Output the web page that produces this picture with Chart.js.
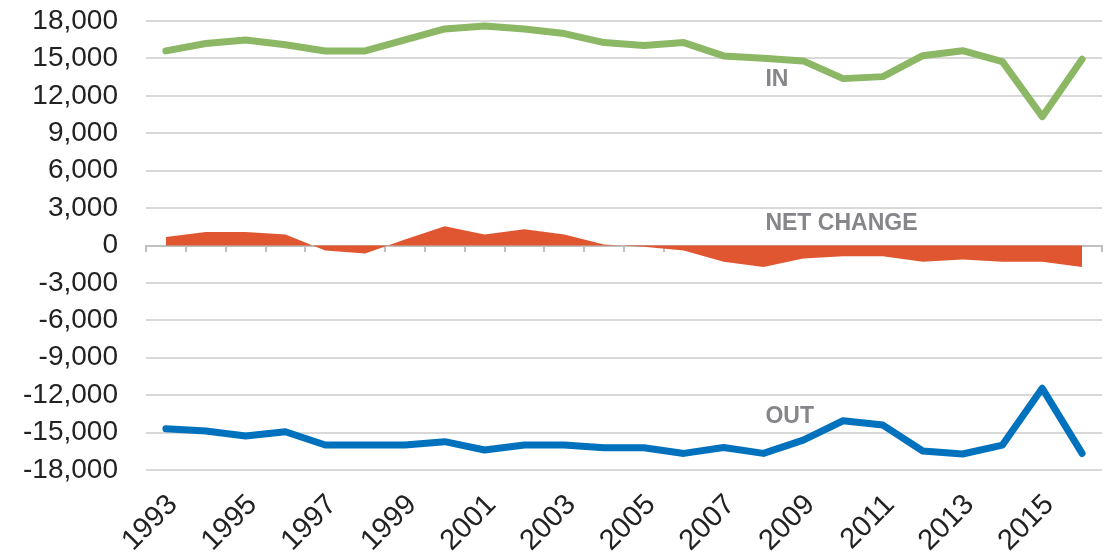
<!DOCTYPE html>
<html>
<head>
<meta charset="utf-8">
<script src="https://cdn.jsdelivr.net/npm/chart.js@4.4.1/dist/chart.umd.min.js"></script>
<style>
  html, body { margin: 0; padding: 0; background: #ffffff; }
  #wrap { width: 1114px; height: 559px; position: relative; }
</style>
</head>
<body>
<div id="wrap"><canvas id="c"></canvas></div>
<script>
const years = ['1993','1994','1995','1996','1997','1998','1999','2000','2001','2002','2003','2004',
               '2005','2006','2007','2008','2009','2010','2011','2012','2013','2014','2015','2016'];
const inflow = [15600,16200,16480,16100,15600,15600,16480,17360,17600,17360,16990,16270,
                16030,16270,15200,15010,14800,13380,13540,15220,15620,14740,10330,14930];
const outflow = [-14690,-14880,-15280,-14930,-16000,-16000,-16000,-15730,-16400,-16000,-16000,-16210,
                 -16210,-16670,-16190,-16670,-15600,-14050,-14400,-16480,-16720,-16000,-11450,-16670];
const netChange = [690,1090,1090,880,-400,-640,480,1550,880,1300,880,80,
                   -110,-400,-1310,-1720,-1040,-860,-860,-1310,-1120,-1310,-1310,-1720];
const seriesLabels = ['IN','NET CHANGE','OUT'];
const seriesLabelYear = ['2008','2008','2008'];
const seriesLabelValue = [13300, 1720, -13700];
const yMin = -18000, yMax = 18000, yStep = 3000;

const labelPlugin = {
  id: 'seriesLabels',
  afterDatasetsDraw(chart) {
    const ctx = chart.ctx;
    const xs = chart.scales.x, ys = chart.scales.y;
    ctx.save();
    ctx.font = 'bold 23px "Liberation Sans", Arial, sans-serif';
    ctx.fillStyle = '#86868a';
    ctx.textAlign = 'left';
    ctx.textBaseline = 'middle';
    seriesLabels.forEach((t, i) => {
      const px = xs.getPixelForValue(years.indexOf(seriesLabelYear[i])) + 2;
      const py = ys.getPixelForValue(seriesLabelValue[i]);
      ctx.fillText(t, px, py);
    });
    ctx.restore();
  }
};

const yFont = { family: '"Liberation Sans", Arial, sans-serif', size: 28 };
const xFont = { family: '"Liberation Sans", Arial, sans-serif', size: 29 };
function zeroPad(s) { s.paddingTop = 0; s.paddingBottom = 0; s.paddingLeft = 0; s.paddingRight = 0; }

new Chart(document.getElementById('c'), {
  type: 'line',
  data: {
    labels: years,
    datasets: [
      { label: 'IN', data: inflow, borderColor: '#8cb865', backgroundColor: '#8cb865',
        borderWidth: 7, pointRadius: 0, tension: 0, fill: false,
        borderCapStyle: 'round', borderJoinStyle: 'round' },
      { label: 'NET CHANGE', data: netChange, borderColor: '#e05630', backgroundColor: '#e05630',
        borderWidth: 0, pointRadius: 0, tension: 0, fill: 'origin' },
      { label: 'OUT', data: outflow, borderColor: '#0071bd', backgroundColor: '#0071bd',
        borderWidth: 7, pointRadius: 0, tension: 0, fill: false,
        borderCapStyle: 'round', borderJoinStyle: 'round' }
    ]
  },
  options: {
    responsive: true,
    maintainAspectRatio: false,
    animation: false,
    layout: { padding: { top: 21, right: 12, left: 0, bottom: 0 } },
    plugins: { legend: { display: false }, tooltip: { enabled: false } },
    scales: {
      x: {
        type: 'category',
        position: 'bottom',
        offset: true,
        grid: { display: false },
        border: { display: false },
        ticks: {
          autoSkip: false,
          minRotation: 45, maxRotation: 45,
          color: '#222222',
          font: xFont,
          padding: 10,
          labelOffset: 7,
          callback: function(v, i) { return i % 2 === 0 ? years[i] : ''; }
        },
        afterFit(s) { s.height = 89; zeroPad(s); }
      },
      x2: {
        type: 'category',
        axis: 'x',
        position: { y: 0 },
        offset: true,
        z: 1,
        grid: { display: true, drawOnChartArea: false, offset: true, tickLength: 5, color: '#bfbfbf', lineWidth: 2 },
        border: { display: true, color: '#bfbfbf', width: 2 },
        ticks: { display: false },
        afterFit(s) { zeroPad(s); }
      },
      y: {
        min: yMin, max: yMax,
        ticks: {
          stepSize: yStep,
          color: '#222222',
          font: yFont,
          padding: 28,
          callback: v => v.toLocaleString('en-US')
        },
        grid: { color: '#d9d9d9', lineWidth: 2, drawTicks: false },
        border: { display: false },
        afterFit(s) { s.width = 146; zeroPad(s); }
      }
    }
  },
  plugins: [labelPlugin]
});
</script>
</body>
</html>
